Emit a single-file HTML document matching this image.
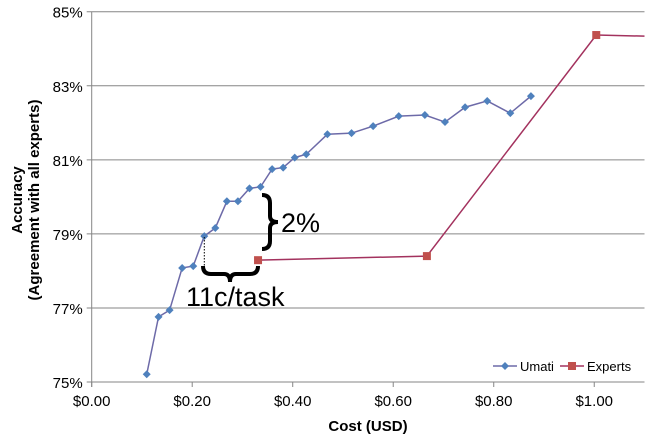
<!DOCTYPE html>
<html><head><meta charset="utf-8"><style>body{margin:0;background:#fff}svg{display:block;font-family:"Liberation Sans",Arial,sans-serif}</style></head>
<body>
<svg width="649" height="439" viewBox="0 0 649 439" id="c"></svg>
<script>
const umatiCost=[0.1095,0.133,0.155,0.180,0.202,0.224,0.246,0.269,0.291,0.314,0.336,0.359,0.381,0.404,0.427,0.469,0.517,0.560,0.611,0.663,0.703,0.743,0.787,0.833,0.874];
const umatiAcc=[75.21,76.76,76.94,78.08,78.13,78.94,79.16,79.88,79.88,80.23,80.27,80.75,80.79,81.06,81.15,81.69,81.72,81.91,82.18,82.21,82.02,82.42,82.59,82.26,82.72];
const expertCost=[0.331,0.667,1.004,1.10];
const expertAcc=[78.29,78.40,84.37,84.34];
const xTicks=[0,0.2,0.4,0.6,0.8,1.0];
const xTickLabels=["$0.00","$0.20","$0.40","$0.60","$0.80","$1.00"];
const yTicks=[75,77,79,81,83,85];
const yTickLabels=["75%","77%","79%","81%","83%","85%"];
const X0=91.7,X1=644.5,Y0=382,Y1=11.7;
const xs=v=>X0+(v-0)/1.1*(X1-X0);
const ys=v=>Y0-(v-75)/10*(Y0-Y1);
const svg=document.getElementById('c');const NS='http://www.w3.org/2000/svg';
function mk(t,a,p){const e=document.createElementNS(NS,t);for(const k in a)e.setAttribute(k,a[k]);(p||svg).appendChild(e);return e;}
yTicks.forEach((t,i)=>{
 const g=mk('line',{x1:X0-5,x2:X1,y1:ys(t),y2:ys(t),stroke:'#868686','stroke-width':1});
 
 
 const l=mk('text',{x:X0-9,y:ys(t)+6,'text-anchor':'end','font-size':15,fill:'#000'});l.textContent=yTickLabels[i];
 
 
});
const ax=mk('line',{x1:X0,x2:X0,y1:Y1,y2:Y0+5,stroke:'#868686'});


xTicks.forEach((t,i)=>{
 const k=mk('line',{x1:xs(t),x2:xs(t),y1:Y0,y2:Y0+5,stroke:'#868686'});
 
 
 const l=mk('text',{x:xs(t),y:Y0+24,'text-anchor':'middle','font-size':15,fill:'#000'});l.textContent=xTickLabels[i];
 
 
});
function diamond(x,y,c){return mk('path',{d:`M${x} ${y-4}L${x+4} ${y}L${x} ${y+4}L${x-4} ${y}Z`,fill:c});}
const up=mk('polyline',{points:umatiCost.map((c,i)=>xs(c)+','+ys(umatiAcc[i])).join(' '),fill:'none',stroke:'#6d6aa8','stroke-width':1.5});


umatiCost.forEach((c,i)=>{const d=diamond(xs(c),ys(umatiAcc[i]),'#4f81bd');
 
 });
const ep=mk('polyline',{points:expertCost.map((c,i)=>xs(c)+','+ys(expertAcc[i])).join(' '),fill:'none',stroke:'#a3325e','stroke-width':1.5});


expertCost.slice(0,3).forEach((c,i)=>{const r=mk('rect',{x:xs(c)-4,y:ys(expertAcc[i])-4,width:8,height:8,fill:'#c0504d'});
 
 });
</script>
<svg style="position:absolute;left:0;top:0" width="649" height="439">
<text transform="translate(22,200) rotate(-90)" text-anchor="middle" font-size="15" font-weight="bold" font-family="Liberation Sans,sans-serif">Accuracy</text>
<text transform="translate(39,200) rotate(-90)" text-anchor="middle" font-size="15" font-weight="bold" font-family="Liberation Sans,sans-serif">(Agreement with all experts)</text>
<text x="368" y="431" text-anchor="middle" font-size="15" font-weight="bold" font-family="Liberation Sans,sans-serif">Cost (USD)</text>
<line x1="204.3" y1="237" x2="204.3" y2="268" stroke="#000" stroke-dasharray="1.5,1.5"/>
<path d="M262 195 Q270 195 270 203 L270 216 Q270 222 278 222 Q270 222 270 228 L270 241 Q270 249 262 249" fill="none" stroke="#000" stroke-width="4"/>
<text x="281" y="232" font-size="27" font-family="Liberation Sans,sans-serif">2%</text>
<path d="M203 266 Q203 274 211 274 L224 274 Q230 274 230 282 Q230 274 236 274 L250 274 Q258 274 258 266" fill="none" stroke="#000" stroke-width="4"/>
<text x="186" y="306" font-size="27" font-family="Liberation Sans,sans-serif">11c/task</text>
<g font-size="13" font-family="Liberation Sans,sans-serif">
<line x1="493" y1="366" x2="517" y2="366" stroke="#6d6aa8" stroke-width="1.5"/><path d="M505 362L509 366L505 370L501 366Z" fill="#4f81bd"/>
<text x="520" y="371">Umati</text>
<line x1="560" y1="366" x2="584" y2="366" stroke="#a3325e" stroke-width="1.5"/><rect x="568" y="362" width="8" height="8" fill="#c0504d"/>
<text x="587" y="371">Experts</text>
</g>
</svg>
</body></html>
